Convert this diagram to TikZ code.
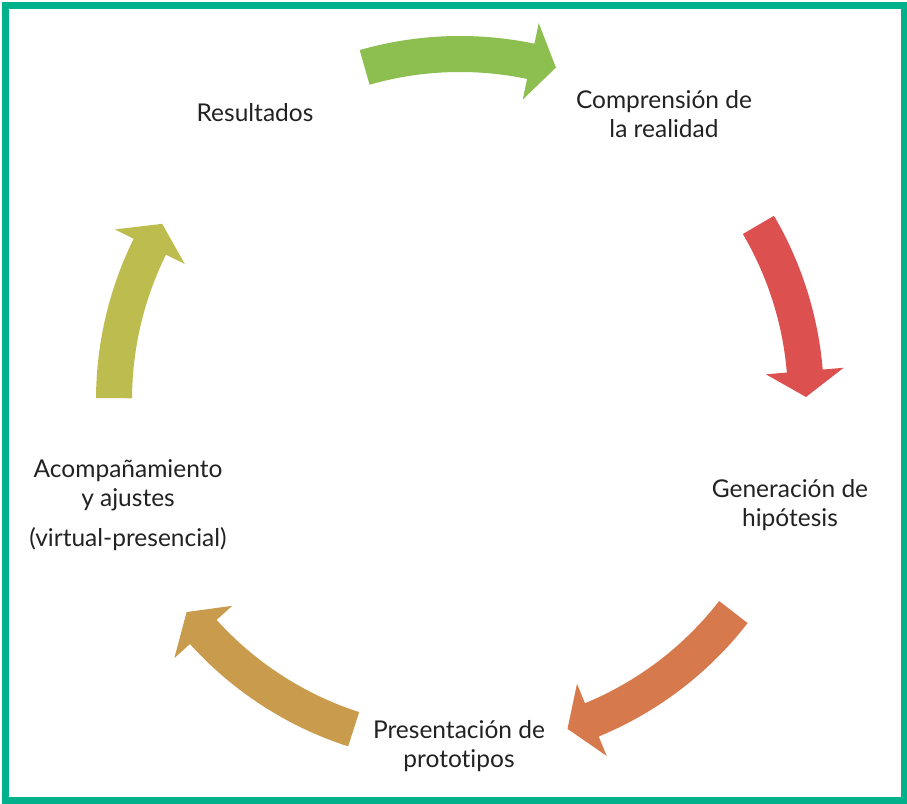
\documentclass[tikz,border=0pt]{standalone}
\usepackage{fontspec}
\setmainfont[Ligatures={NoCommon}]{Lato}
\definecolor{frame}{HTML}{00B28C}
\definecolor{cgreen}{HTML}{8DBF50}
\definecolor{cred}{HTML}{DC5050}
\definecolor{corange}{HTML}{D67A4D}
\definecolor{ctan}{HTML}{C99C4D}
\definecolor{colive}{HTML}{BDBD4F}
\definecolor{txt}{HTML}{222222}
\newcommand\cycarrow[3]{%
  \fill[#1] (#2:364pt) arc[start angle=#2, end angle=#3+4.3, radius=364pt]
    -- (#3+4.3:385pt) -- (#3:346pt) -- (#3+4.3:307pt) -- (#3+4.3:328pt)
    arc[start angle=#3+4.3, end angle=#2, radius=328pt] -- cycle;}
\begin{document}
\begin{tikzpicture}[x=1pt,y=1pt,
  lbl/.style={align=center, text=txt, font=\fontsize{24.5}{29.5}\selectfont, inner sep=0pt}]
\useasboundingbox (0,0) rectangle (907,803);
\fill[white] (0,0) rectangle (907,803);
\draw[line width=7pt, frame] (5.5,3) rectangle (904.5,797.5);
\begin{scope}[shift={(460,403)}]
  \cycarrow{cgreen}{106}{73.9}
  \cycarrow{cred}{30.4}{0.5}
  \cycarrow{corange}{-37.8}{-71.9}
  \cycarrow{ctan}{-107.9}{-142.2}
  \cycarrow{colive}{179.7}{149.4}
\end{scope}
\node[lbl] (res) at (255,690) {Resultados};
\node[lbl] (comp) at (664,689) {Comprensión de\\la realidad};
\node[lbl] (gen) at (790,298) {Generación de\\hipótesis};
\node[lbl] (pres) at (459,57) {Presentación de\\prototipos};
\node[lbl] (acom) at (128,298) {Acompañamiento\\y ajustes\\[10pt](virtual-presencial)};
\end{tikzpicture}
\end{document}
